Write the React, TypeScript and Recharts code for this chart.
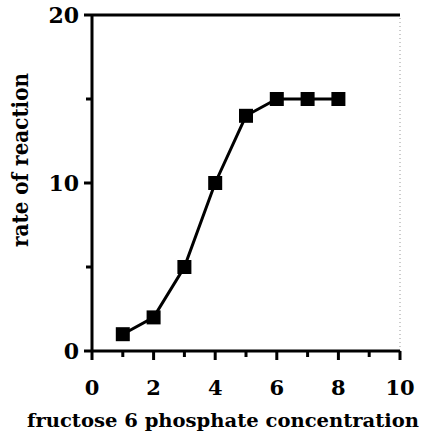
import { LineChart, Line, XAxis, YAxis, ReferenceLine } from 'recharts';

// fructose 6 phosphate concentration vs rate of reaction
const concentration = [1, 2, 3, 4, 5, 6, 7, 8];
const rate = [1, 2, 5, 10, 14, 15, 15, 15];
const xTicks = [0, 1, 2, 3, 4, 5, 6, 7, 8, 9, 10];
const yTicks = [0, 5, 10, 15, 20];
const xLabels = [0, 2, 4, 6, 8, 10];
const yLabels = [0, 10, 20];

const data = concentration.map((c, i) => ({ c, r: rate[i] }));

const FONT = '"DejaVu Serif", "Liberation Serif", serif';

const XTick = ({ x, y, payload }: any) => {
  const v = payload.value;
  const major = xLabels.includes(v);
  return (
    <g>
      <line x1={x} y1={y} x2={x} y2={y + (major ? 9 : 6)} stroke="#000" strokeWidth={3} />
      {major && (
        <text x={x} y={y + 44} textAnchor="middle" fontFamily={FONT} fontWeight="bold" fontSize={21} fill="#000">
          {v}
        </text>
      )}
    </g>
  );
};

const YTick = ({ x, y, payload }: any) => {
  const v = payload.value;
  const major = yLabels.includes(v);
  return (
    <g>
      <line x1={x - (major ? 8 : 6)} y1={y} x2={x} y2={y} stroke="#000" strokeWidth={3} />
      {major && (
        <text x={x - 13} y={y + 8} textAnchor="end" fontFamily={FONT} fontWeight="bold" fontSize={22} fill="#000">
          {v}
        </text>
      )}
    </g>
  );
};

const Square = ({ cx, cy }: any) => (
  <rect x={cx - 7} y={cy - 7} width={14} height={14} fill="#000" />
);

export default function App() {
  return (
    <div style={{ position: 'absolute', left: 0, top: 0, background: '#fff' }}>
      <LineChart width={430} height={441} data={data} margin={{ top: 15, right: 30, left: 0, bottom: 0 }}>
        <XAxis
          dataKey="c"
          type="number"
          domain={[0, 10]}
          ticks={xTicks}
          interval={0}
          tickSize={0}
          tickMargin={0}
          height={90}
          axisLine={{ stroke: '#000', strokeWidth: 3 }}
          tick={<XTick />}
          label={{
            content: () => (
              <text
                x={223}
                y={427}
                textAnchor="middle"
                fontFamily={FONT}
                fontWeight="bold"
                fontSize={19}
                fill="#000"
                textLength={392}
                lengthAdjust="spacingAndGlyphs"
              >
                fructose 6 phosphate concentration
              </text>
            ),
          }}
        />
        <YAxis
          type="number"
          domain={[0, 20]}
          ticks={yTicks}
          interval={0}
          tickSize={0}
          tickMargin={0}
          width={92}
          axisLine={{ stroke: '#000', strokeWidth: 3 }}
          tick={<YTick />}
          label={{
            content: () => (
              <text
                x={0}
                y={0}
                transform="translate(28, 160) rotate(-90)"
                textAnchor="middle"
                fontFamily={FONT}
                fontWeight="bold"
                fontSize={22}
                fill="#000"
                textLength={174}
                lengthAdjust="spacingAndGlyphs"
              >
                rate of reaction
              </text>
            ),
          }}
        />
        <ReferenceLine y={20} stroke="#000" strokeWidth={3} />
        <ReferenceLine x={10} stroke="#999" strokeWidth={1} strokeDasharray="1 3" />
        <Line
          dataKey="r"
          type="linear"
          stroke="#000"
          strokeWidth={3}
          dot={<Square />}
          activeDot={false}
          isAnimationActive={false}
        />
      </LineChart>
    </div>
  );
}
